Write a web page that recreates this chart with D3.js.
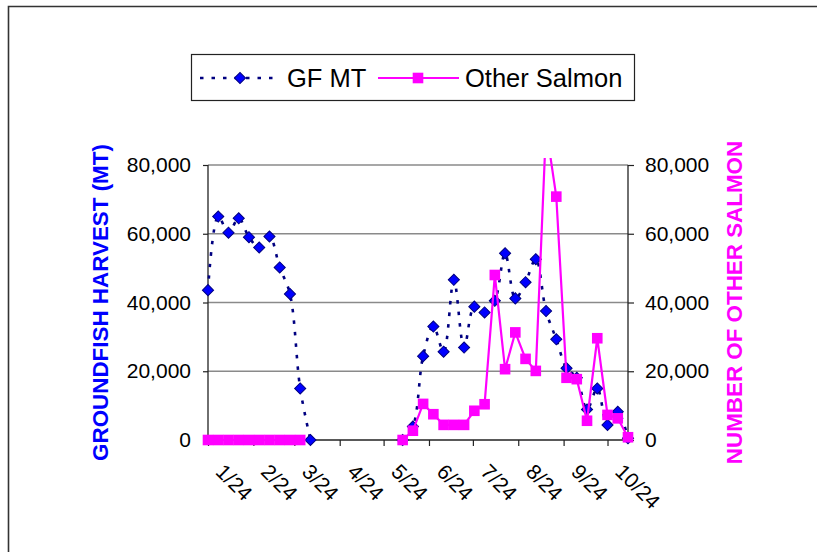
<!DOCTYPE html>
<html>
<head>
<meta charset="utf-8">
<script src="https://cdn.jsdelivr.net/npm/d3@7"></script>
<style>
  html, body { margin: 0; padding: 0; background: #fff; }
  svg { display: block; font-family: "Liberation Sans", Arial, sans-serif; }
</style>
</head>
<body>
<svg id="chart" width="817" height="552"></svg>
<script>
// ---- data (weekly) ----
const year = 2003;
const weeks = ["1/24","1/31","2/7","2/14","2/21","2/28","3/7","3/14","3/21","3/28",
  "4/4","4/11","4/18","4/25","5/2","5/9","5/16","5/23","5/30",
  "6/6","6/13","6/20","6/27","7/4","7/11","7/18","7/25","8/1","8/8","8/15","8/22","8/29",
  "9/5","9/12","9/19","9/26","10/3","10/10","10/17","10/24","10/31","11/7"];
const gfMT = [43600, 65000, 60300, 64500, 59000, 56000, 59200, 50200, 42500, 15000,
  0, null, null, null, null, null, null, null, null,
  0, 3900, 24400, 33000, 25700, 46600, 26900, 38800, 37100, 40500, 54300, 41200, 45900,
  52600, 37500, 29300, 20900, 18100, 8900, 15000, 4400, 8200, 500];
const otherSalmon = [0, 0, 0, 0, 0, 0, 0, 0, 0, 0,
  null, null, null, null, null, null, null, null, null,
  0, 2700, 10500, 7500, 4400, 4400, 4400, 8500, 10400, 48000, 20600, 31300, 23600,
  20100, 91000, 70800, 18100, 17700, 5600, 29600, 7300, 6300, 800];
const xTickLabels = ["1/24","2/24","3/24","4/24","5/24","6/24","7/24","8/24","9/24","10/24"];
const yTickValues = [0, 20000, 40000, 60000, 80000];
const seriesNames = ["GF MT", "Other Salmon"];
const axisTitles = ["GROUNDFISH HARVEST (MT)", "NUMBER OF OTHER SALMON"];

// ---- setup ----
const parse = d3.timeParse("%m/%d/%Y");
const toDate = s => parse(s + "/" + year);
const dates = weeks.map(toDate);
const svg = d3.select("#chart");

const plot = { left: 208, right: 628, top: 165, bottom: 440 };
const x = d3.scaleTime().domain([dates[0], dates[dates.length - 1]]).range([plot.left, plot.right]);
const y = d3.scaleLinear().domain([0, 80000]).range([plot.bottom, plot.top]);
const yR = d3.scaleLinear().domain([0, 80000]).range([plot.bottom, plot.top]);
const fmt = d3.format(",");

// chart-area border (only top/left visible in frame)
svg.append("path").attr("d", "M8.5,560 L8.5,6.5 L830,6.5")
  .attr("fill", "none").attr("stroke", "#333").attr("stroke-width", 1.6);

// gridlines
svg.append("g").selectAll("line").data(yTickValues.filter(v => v > 0)).join("line")
  .attr("x1", plot.left).attr("x2", plot.right)
  .attr("y1", d => y(d)).attr("y2", d => y(d))
  .attr("stroke", "#8a8a8a").attr("stroke-width", 1.6);

// left axis
const gL = svg.append("g").attr("transform", `translate(${plot.left},0)`)
  .call(d3.axisLeft(y).tickValues(yTickValues).tickFormat(fmt).tickSize(5).tickPadding(12));
// right axis
const gR = svg.append("g").attr("transform", `translate(${plot.right},0)`)
  .call(d3.axisRight(yR).tickValues(yTickValues).tickFormat(fmt).tickSize(6).tickPadding(11));
// x axis
const tickDates = xTickLabels.map(toDate);
const gX = svg.append("g").attr("transform", `translate(0,${plot.bottom})`)
  .call(d3.axisBottom(x).tickValues(tickDates).tickFormat((d, i) => xTickLabels[i]).tickSize(6));

[gL, gR, gX].forEach(g => {
  g.select(".domain").attr("stroke", "#222").attr("stroke-width", 1.3);
  g.selectAll(".tick line").attr("stroke", "#222").attr("stroke-width", 1.2);
  g.selectAll("text").attr("font-size", 21).attr("fill", "#000")
    .attr("font-family", "'Liberation Sans', Arial, sans-serif");
});
gX.select(".domain").attr("d", `M${plot.left},0H${plot.right}`);
gL.select(".domain").attr("d", `M0,${plot.bottom}V${plot.top}`);
gR.select(".domain").attr("d", `M0,${plot.bottom}V${plot.top}`);
gX.selectAll(".tick text")
  .attr("text-anchor", "start").attr("dy", null).attr("y", null)
  .attr("transform", "translate(6,33) rotate(45)");

// clip for series
svg.append("clipPath").attr("id", "clip").append("rect")
  .attr("x", 150).attr("y", 158).attr("width", 560).attr("height", 320);

const gfData = dates.map((d, i) => ({ d, v: gfMT[i] }));
const salData = dates.map((d, i) => ({ d, v: otherSalmon[i] }));

const series = svg.append("g").attr("clip-path", "url(#clip)");

// GF line: smoothed dotted navy
series.append("path")
  .datum(gfData)
  .attr("fill", "none").attr("stroke", "#000080").attr("stroke-width", 2.6)
  .attr("stroke-dasharray", "3.5,8")
  .attr("d", d3.line().defined(p => p.v !== null)
    .x(p => x(p.d)).y(p => y(p.v)).curve(d3.curveCatmullRom.alpha(0.5)));

// GF diamonds
const diamond = d3.symbol().type(d3.symbolSquare).size(62)();
series.append("g").selectAll("path").data(gfData.filter(p => p.v !== null)).join("path")
  .attr("d", diamond)
  .attr("transform", p => `translate(${x(p.d)},${y(p.v)}) rotate(45)`)
  .attr("fill", "#0000ff").attr("stroke", "#000080").attr("stroke-width", 1);

// Salmon line
series.append("path")
  .datum(salData)
  .attr("fill", "none").attr("stroke", "#ff00ff").attr("stroke-width", 2.2)
  .attr("d", d3.line().defined(p => p.v !== null)
    .x(p => x(p.d)).y(p => yR(p.v)));

// Salmon squares
series.append("g").selectAll("rect").data(salData.filter(p => p.v !== null)).join("rect")
  .attr("x", p => x(p.d) - 5.3).attr("y", p => yR(p.v) - 5.3)
  .attr("width", 10.6).attr("height", 10.6)
  .attr("fill", "#ff00ff");

// axis titles
svg.append("text")
  .attr("transform", `translate(108,${(plot.top + plot.bottom) / 2}) rotate(-90)`)
  .attr("text-anchor", "middle").attr("font-size", 22.4).attr("font-weight", "bold")
  .attr("fill", "#0000ff").text(axisTitles[0]);
svg.append("text")
  .attr("transform", `translate(742,${(plot.top + plot.bottom) / 2}) rotate(-90)`)
  .attr("text-anchor", "middle").attr("font-size", 22.4).attr("font-weight", "bold")
  .attr("fill", "#ff00ff").text(axisTitles[1]);

// legend
const lg = svg.append("g");
lg.append("rect").attr("x", 191.5).attr("y", 54.5).attr("width", 443).attr("height", 46)
  .attr("fill", "#fff").attr("stroke", "#222").attr("stroke-width", 1.2);
lg.append("line").attr("x1", 200).attr("x2", 278).attr("y1", 78).attr("y2", 78)
  .attr("stroke", "#000080").attr("stroke-width", 2.6).attr("stroke-dasharray", "3.5,8");
lg.append("path").attr("d", diamond).attr("transform", "translate(240,78) rotate(45)")
  .attr("fill", "#0000ff").attr("stroke", "#000080").attr("stroke-width", 1);
lg.append("text").attr("x", 287).attr("y", 86.5).attr("font-size", 25.5).attr("fill", "#000")
  .text(seriesNames[0]);
lg.append("line").attr("x1", 378).attr("x2", 459).attr("y1", 78).attr("y2", 78)
  .attr("stroke", "#ff00ff").attr("stroke-width", 2.2);
lg.append("rect").attr("x", 418 - 5.3).attr("y", 78 - 5.3).attr("width", 10.6).attr("height", 10.6)
  .attr("fill", "#ff00ff");
lg.append("text").attr("x", 465).attr("y", 86.5).attr("font-size", 25.5).attr("fill", "#000")
  .text(seriesNames[1]);
</script>
</body>
</html>
